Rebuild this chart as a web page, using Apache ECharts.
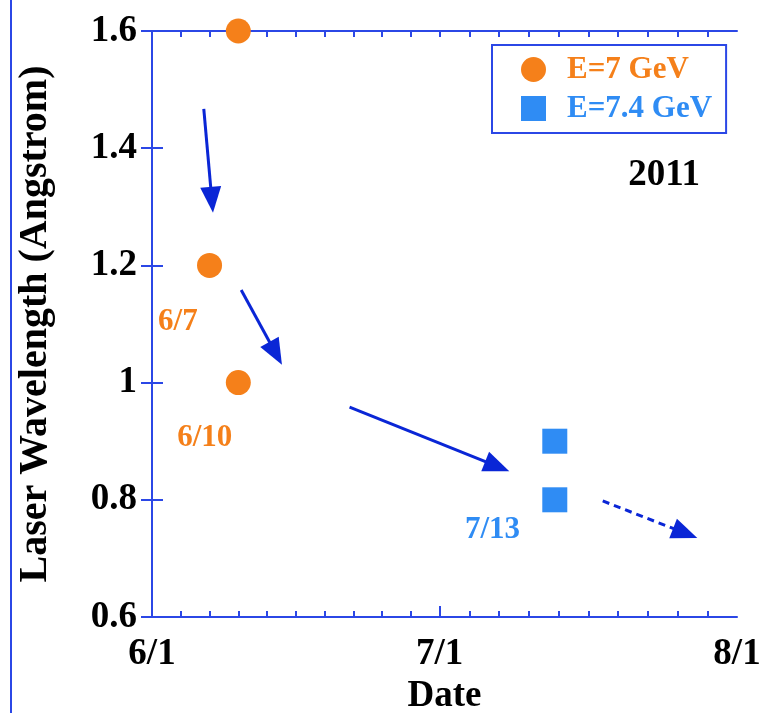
<!DOCTYPE html>
<html>
<head>
<meta charset="utf-8">
<script src="https://cdn.jsdelivr.net/npm/echarts@6/dist/echarts.min.js"></script>
<style>
  html, body { margin: 0; padding: 0; background: #ffffff; }
  #chart { width: 773px; height: 713px; }
</style>
</head>
<body>
<div id="chart"></div>
<script>
// Days counted from 6/1 (6/1 = 0, 7/1 = 30, 8/1 = 61)
const dateTicks = [0, 30, 61];
const dateTickLabels = ['6/1', '7/1', '8/1'];
const minorDateTicks = [3, 6, 9, 12, 15, 18, 21, 24, 27, 30, 33.1, 36.2, 39.3, 42.4, 45.5, 48.6, 51.7, 54.8, 57.9];

// E = 7 GeV runs
const e7Days = [9, 6, 9];
const e7Wavelength = [1.6, 1.2, 1.0];
// E = 7.4 GeV runs
const e74Days = [42, 42];
const e74Wavelength = [0.9, 0.8];

// Annotation arrows: [startDay, startWavelength, headDay, headWavelength, dashed]
const arrows = [
  [5.4, 1.467, 6.24, 1.312, false],
  [9.3, 1.158, 12.9, 1.05, false],
  [20.6, 0.958, 36.0, 0.857, false],
  [47.0, 0.798, 55.6, 0.743, true]
];
// Date notes: [day, wavelength, text]
const e7Notes = [[2.7, 1.103, '6/7'], [5.5, 0.905, '6/10']];
const e74Notes = [[35.5, 0.748, '7/13']];
const yearNote = [53.4, 1.354, '2011'];

const ORANGE = '#f5801a';
const SKY = '#2f8cf4';
const AXIS_BLUE = '#2b47e6';
const ARROW_BLUE = '#0a26d6';
const SERIF = '"Liberation Serif", "Times New Roman", serif';

const chart = echarts.init(document.getElementById('chart'), null, { renderer: 'canvas' });

const pairs = (xs, ys) => xs.map((x, i) => [x, ys[i]]);

function note(day, val, text, color, size) {
  return {
    coord: [day, val],
    value: text,
    symbol: 'rect',
    symbolSize: 1,
    itemStyle: { color: 'rgba(0,0,0,0)' },
    label: {
      show: true, position: 'inside', formatter: text,
      color: color, fontFamily: SERIF, fontWeight: 'bold', fontSize: size
    }
  };
}

const arrowLines = arrows.map(a => [
  {
    coord: [a[0], a[1]], symbol: 'none',
    lineStyle: { color: ARROW_BLUE, width: 3, type: a[4] ? [7, 5] : 'solid' }
  },
  { coord: [a[2], a[3]], symbol: 'triangle', symbolSize: [21, 26] }
]);

const axisLineStyle = { show: true, lineStyle: { color: AXIS_BLUE, width: 2 } };

chart.setOption({
  backgroundColor: '#ffffff',
  animation: false,
  grid: { left: 152, top: 31, right: 36, bottom: 96, containLabel: false, outerBoundsMode: 'none' },
  legend: {
    orient: 'vertical',
    left: 492, top: 45,
    borderColor: AXIS_BLUE, borderWidth: 2, borderRadius: 0,
    padding: [9, 14, 9, 29],
    itemWidth: 25, itemHeight: 25, itemGap: 8,
    selectedMode: false,
    textStyle: { fontFamily: SERIF, fontWeight: 'bold', fontSize: 31, padding: [0, 0, 0, 16] },
    data: [
      { name: 'E=7 GeV', icon: 'circle', textStyle: { color: ORANGE } },
      { name: 'E=7.4 GeV', icon: 'rect', textStyle: { color: SKY } }
    ]
  },
  xAxis: [
    {
      type: 'value', min: 0, max: 61, position: 'bottom',
      axisLine: axisLineStyle, splitLine: { show: false },
      axisTick: { show: true, inside: true, length: 6, customValues: minorDateTicks, lineStyle: { color: AXIS_BLUE, width: 2 } },
      axisLabel: {
        customValues: dateTicks,
        formatter: v => dateTickLabels[dateTicks.indexOf(Math.round(v))] || '',
        color: '#000', fontFamily: SERIF, fontWeight: 'bold', fontSize: 37, margin: 19
      },
      name: 'Date', nameLocation: 'middle', nameGap: 58,
      nameTextStyle: { color: '#000', fontFamily: SERIF, fontWeight: 'bold', fontSize: 37 }
    },
    {
      type: 'value', min: 0, max: 61, position: 'top',
      axisLine: axisLineStyle, splitLine: { show: false },
      axisTick: { show: true, inside: true, length: 6, customValues: minorDateTicks, lineStyle: { color: AXIS_BLUE, width: 2 } },
      axisLabel: { show: false }
    },
    {
      type: 'value', min: 0, max: 61, position: 'bottom',
      axisLine: { show: false }, splitLine: { show: false },
      axisTick: { show: true, inside: true, length: 11, customValues: [30], lineStyle: { color: AXIS_BLUE, width: 2 } },
      axisLabel: { show: false }
    }
  ],
  yAxis: [
    {
      type: 'value', min: 0.6, max: 1.6, interval: 0.2, position: 'left',
      axisLine: axisLineStyle, splitLine: { show: false },
      axisTick: { show: true, inside: true, length: 11, lineStyle: { color: AXIS_BLUE, width: 2 } },
      axisLabel: { color: '#000', fontFamily: SERIF, fontWeight: 'bold', fontSize: 37, margin: 15 },
      name: 'Laser Wavelength (Angstrom)', nameLocation: 'middle', nameGap: 96, nameRotate: 90,
      nameTextStyle: { color: '#000', fontFamily: SERIF, fontWeight: 'bold', fontSize: 40 }
    },
    {
      type: 'value', min: 0.6, max: 1.6, interval: 0.2, position: 'right',
      axisLine: axisLineStyle, splitLine: { show: false },
      axisTick: { show: true, inside: true, length: 11, lineStyle: { color: AXIS_BLUE, width: 2 } },
      axisLabel: { show: false }
    }
  ],
  graphic: [
    { type: 'line', shape: { x1: 11, y1: 0, x2: 11, y2: 713 }, style: { stroke: AXIS_BLUE, lineWidth: 2 }, silent: true }
  ],
  series: [
    {
      name: 'E=7 GeV', type: 'scatter', clip: false,
      symbol: 'circle', symbolSize: 25,
      itemStyle: { color: ORANGE, opacity: 1 },
      data: pairs(e7Days, e7Wavelength),
      markPoint: {
        data: e7Notes.map(n => note(n[0], n[1], n[2], ORANGE, 31))
      },
      markLine: {
        silent: true,
        label: { show: false },
        lineStyle: { color: ARROW_BLUE, width: 3 },
        data: arrowLines
      }
    },
    {
      name: 'E=7.4 GeV', type: 'scatter', clip: false,
      symbol: 'rect', symbolSize: 25,
      itemStyle: { color: SKY, opacity: 1 },
      data: pairs(e74Days, e74Wavelength),
      markPoint: {
        data: e74Notes.map(n => note(n[0], n[1], n[2], SKY, 31))
          .concat([note(yearNote[0], yearNote[1], yearNote[2], '#000', 37)])
      }
    }
  ]
});
</script>
</body>
</html>
